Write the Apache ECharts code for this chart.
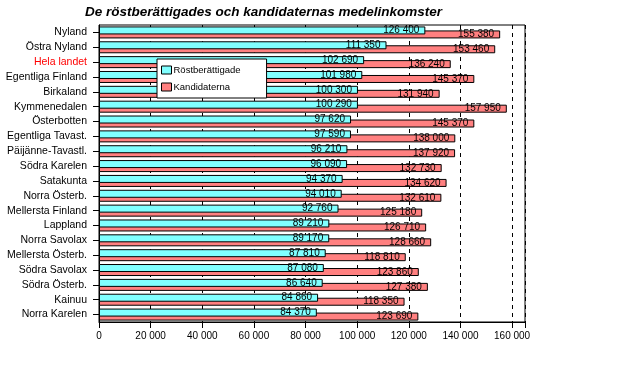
<!DOCTYPE html>
<html><head><meta charset="utf-8">
<script src="https://cdn.jsdelivr.net/npm/echarts@6/dist/echarts.min.js"></script>
<style>html,body{margin:0;padding:0;background:#fff}#c{width:640px;height:387px}</style>
</head><body><div id="c"></div>
<script>
const categories = ["Nyland","Östra Nyland","Hela landet","Egentliga Finland","Birkaland","Kymmenedalen","Österbotten","Egentliga Tavast.","Päijänne-Tavastl.","Södra Karelen","Satakunta","Norra Österb.","Mellersta Finland","Lappland","Norra Savolax","Mellersta Österb.","Södra Savolax","Södra Österb.","Kainuu","Norra Karelen"];
const rostberattigade = [126400,111350,102690,101980,100300,100290,97620,97590,96210,96090,94370,94010,92760,89210,89170,87810,87080,86640,84860,84370];
const kandidaterna = [155380,153460,136240,145370,131940,157950,145370,138000,137920,132730,134620,132610,125180,126710,128660,118810,123860,127380,118350,123690];
const xTicks = [0,20000,40000,60000,80000,100000,120000,140000,160000];

const fmt = v => String(v).replace(/\B(?=(\d{3})+(?!\d))/g, ' ');
const chart = echarts.init(document.getElementById('c'), null, {renderer:'canvas'});
const font = 'Liberation Sans, Arial, sans-serif';
chart.setOption({
  backgroundColor:'#fff',
  animation:false,
  textStyle:{fontFamily:font},
  title:{text:'De röstberättigades och kandidaternas medelinkomster', left:80, top:0,
    textStyle:{fontFamily:font, fontSize:13.5, fontWeight:'bold', fontStyle:'italic', color:'#000'}},
  legend:{orient:'vertical', left:157, top:59, backgroundColor:'#fff', borderColor:'#000', borderWidth:1,
    padding:[6,26,6,4], itemGap:7, itemWidth:10, itemHeight:8, icon:'rect',
    itemStyle:{borderColor:'#000', borderWidth:1},
    textStyle:{fontFamily:font, fontSize:9.5, color:'#000', padding:[0,0,0,-3]},
    data:['Röstberättigade','Kandidaterna']},
  grid:{left:99, right:115, top:25, bottom:65, show:true, borderColor:'#000', borderWidth:1, containLabel:false, outerBoundsMode:'none'},
  xAxis:{type:'value', min:0, max:165000, interval:20000,
    axisLine:{show:true, lineStyle:{color:'#000'}},
    axisTick:{show:true, length:6, lineStyle:{color:'#000'}},
    splitLine:{show:true, lineStyle:{color:'#000', type:[4,4], width:1}},
    axisLabel:{color:'#000', fontSize:10, margin:9, fontFamily:font,
      formatter: v => xTicks.includes(v) ? fmt(v) : ''}},
  yAxis:{type:'category', data:categories, inverse:true,
    axisLine:{show:true, lineStyle:{color:'#000'}},
    axisTick:{show:true, length:6, alignWithLabel:true, interval:0, lineStyle:{color:'#000'}},
    axisLabel:{fontSize:10.5, margin:12, interval:0, fontFamily:font,
      color: (v) => v === 'Hela landet' ? '#ff0000' : '#000'}},
  series:[
    {name:'Röstberättigade', type:'bar', data:rostberattigade, barWidth:8, barGap:'-50%', z:3,
      itemStyle:{color:'#80ffff', borderColor:'#000', borderWidth:1},
      label:{show:true, position:'insideRight', distance:6, color:'#000', fontSize:10, fontFamily:font, formatter:p=>fmt(p.value)}},
    {name:'Kandidaterna', type:'bar', data:kandidaterna, barWidth:8, barGap:'-50%', z:2,
      itemStyle:{color:'#ff8080', borderColor:'#000', borderWidth:1},
      label:{show:true, position:'insideRight', distance:6, color:'#000', fontSize:10, fontFamily:font, formatter:p=>fmt(p.value)}}
  ]
});
</script></body></html>
